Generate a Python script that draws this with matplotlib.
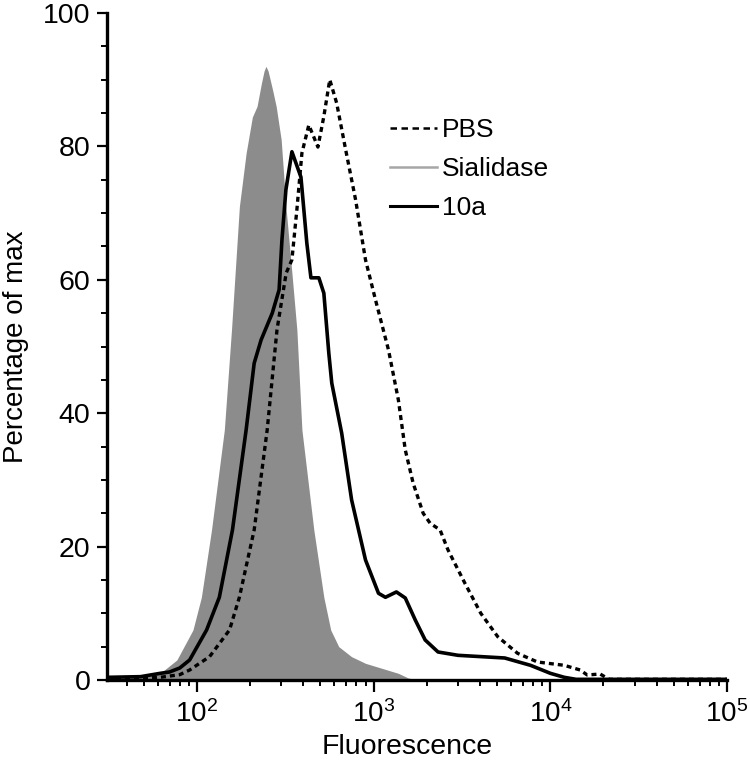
import matplotlib
matplotlib.use('Agg')
import matplotlib.pyplot as plt
from matplotlib.lines import Line2D
from matplotlib.ticker import LogLocator, MultipleLocator, NullFormatter

plt.rcParams['font.family'] = ['Liberation Sans', 'DejaVu Sans']
plt.rcParams['mathtext.fontset'] = 'custom'
plt.rcParams['mathtext.rm'] = 'Liberation Sans'
plt.rcParams['mathtext.default'] = 'regular'

# histogram traces (fluorescence, percentage of max)
sial_x = [31, 37, 48, 62, 77, 95, 106, 121, 143, 157, 174, 190, 206, 219, 232, 240, 246,
          253, 268, 281, 300, 319, 345, 368, 393, 459, 523, 572, 635, 750, 900, 1381, 1571, 1800]
sial_y = [0.3, 0.3, 0.5, 1.0, 3.0, 7.5, 12.4, 22.5, 37.5, 52.5, 71, 79, 84.4, 86, 89.5, 91.3, 92,
          91.3, 88.5, 86, 81, 71, 61, 52.5, 37.5, 22.5, 12.4, 7.5, 5.0, 3.5, 2.5, 1.0, 0.3, 0]

a10_x = [31, 48, 62, 70, 80, 91, 113.5, 134, 159, 190, 211, 231, 267, 292, 303, 319,
         345, 388, 419, 442, 490, 523, 558, 580, 660, 751, 900, 1066, 1167, 1346,
         1511, 1721, 1958, 2316, 3006, 5524, 7730, 10014, 12000, 14000, 100000]
a10_y = [0.4, 0.5, 1.0, 1.2, 1.8, 3.0, 7.5, 12.4, 22.5, 37.5, 47.5, 51, 55, 58.5, 66, 73.5,
         79.2, 75.4, 65.5, 60.3, 60.3, 58, 49, 44.5, 37, 27, 18, 13, 12.4, 13.2,
         12.3, 9, 6, 4.2, 3.7, 3.3, 2.2, 1.0, 0.4, 0.1, 0.1]

pbs_x = [31, 37, 62, 80, 91, 118, 153, 174, 211, 250, 284, 320, 345, 368, 393, 430,
         459, 484, 523, 565, 618, 695, 791, 900, 1025, 1214, 1381, 1511, 1675, 1908,
         2090, 2378, 2637, 3288, 4043, 5039, 6530, 8460, 12000, 14760, 16180, 19150,
         21500, 100000]
pbs_y = [0.1, 0.2, 0.4, 0.8, 1.5, 3.5, 7.5, 12.4, 22.5, 37.5, 52.5, 61, 63, 70.5, 79, 83.2,
         81.4, 79.9, 84.5, 90, 86.5, 79.5, 72, 63, 57, 49.5, 42, 34.5, 29.5, 25,
         23.5, 22.5, 19.5, 14.5, 10, 6.5, 4, 2.7, 2.2, 1.5, 0.75, 0.9,
         0.1, 0.1]

labels = ['PBS', 'Sialidase', '10a']
y_ticks = [0, 20, 40, 60, 80, 100]

fig = plt.figure(figsize=(7.5, 7.71), dpi=100)
ax = fig.add_axes([107 / 750, 91 / 771, 620 / 750, 667 / 771])

ax.fill_between(sial_x, sial_y, 0, color='#8c8c8c', linewidth=0, zorder=1)
ax.plot(a10_x, a10_y, color='black', linewidth=2.6, zorder=3)
ax.plot(pbs_x, pbs_y, color='black', linewidth=2.4, linestyle=(0, (1.5, 1.2)), zorder=2)

ax.set_xscale('log')
ax.set_xlim(31, 1e5)
ax.set_ylim(0, 100)

ax.xaxis.set_minor_locator(LogLocator(base=10, subs=range(2, 10), numticks=20))
ax.xaxis.set_minor_formatter(NullFormatter())
ax.set_xticks([1e2, 1e3, 1e4, 1e5])
ax.set_yticks(y_ticks)
ax.yaxis.set_minor_locator(MultipleLocator(5))

for side in ['top', 'right']:
    ax.spines[side].set_visible(False)
for side in ['left', 'bottom']:
    ax.spines[side].set_linewidth(2.4)

ax.tick_params(axis='both', which='major', direction='out', width=1.6, labelsize=20.5)
ax.tick_params(axis='y', which='major', length=7, pad=5)
ax.tick_params(axis='x', which='major', length=8.5, pad=6, labelsize=20)
ax.tick_params(axis='both', which='minor', direction='out', width=1.4, length=4.5)

ax.set_xlabel('Fluorescence', fontsize=20.5)
ax.xaxis.set_label_coords(0.484, -0.081)
ax.set_ylabel('Percentage of max', fontsize=20)
ax.yaxis.set_label_coords(-0.125, 0.5)

handles = [
    Line2D([], [], color='black', linewidth=1.8, linestyle=(0, (2.6, 1.8))),
    Line2D([], [], color='#a6a6a6', linewidth=1.8),
    Line2D([], [], color='black', linewidth=2.2),
]
ax.legend(handles, labels, loc='upper left', bbox_to_anchor=(0.456, 0.842),
          frameon=False, fontsize=19, handlelength=1.78, handletextpad=0.2,
          borderpad=0, borderaxespad=0, labelspacing=0.56)

fig.savefig('out.png', dpi=100)
